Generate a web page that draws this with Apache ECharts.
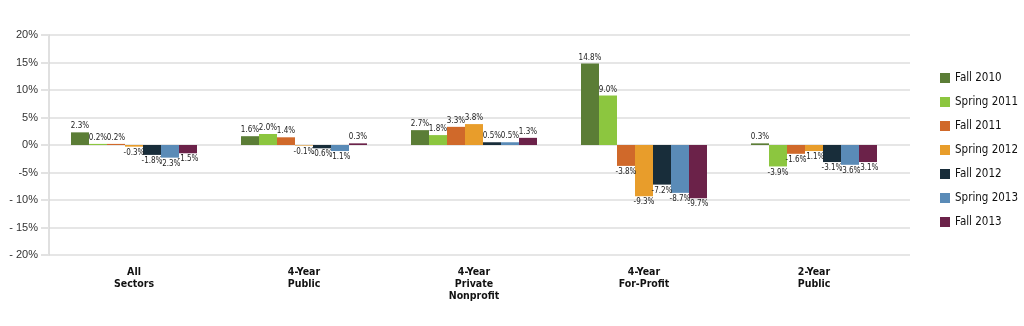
<!DOCTYPE html>
<html><head><meta charset="utf-8">
<script src="https://cdn.jsdelivr.net/npm/echarts@6/dist/echarts.min.js"></script>
<style>html,body{margin:0;padding:0;background:#fff}#c{width:1024px;height:326px}</style>
</head><body><div id="c"></div>
<script>
const categories = ["All\nSectors", "4-Year\nPublic", "4-Year\nPrivate\nNonprofit", "4-Year\nFor-Profit", "2-Year\nPublic"];
const seriesNames = ["Fall 2010", "Spring 2011", "Fall 2011", "Spring 2012", "Fall 2012", "Spring 2013", "Fall 2013"];
const fall2010   = [2.3, 1.6, 2.7, 14.8, 0.3];
const spring2011 = [0.2, 2.0, 1.8, 9.0, -3.9];
const fall2011   = [0.2, 1.4, 3.3, -3.8, -1.6];
const spring2012 = [-0.3, -0.1, 3.8, -9.3, -1.1];
const fall2012   = [-1.8, -0.6, 0.5, -7.2, -3.1];
const spring2013 = [-2.3, -1.1, 0.5, -8.7, -3.6];
const fall2013   = [-1.5, 0.3, 1.3, -9.7, -3.1];
const yTicks = [-20, -15, -10, -5, 0, 5, 10, 15, 20];

const allValues = [fall2010, spring2011, fall2011, spring2012, fall2012, spring2013, fall2013];
const colors = ["#5b7d36", "#8cc63f", "#d0692a", "#e89d2b", "#182d3a", "#5a8bb7", "#6b2249"];
const narrow = "'Liberation Sans Narrow', 'DejaVu Sans Condensed', sans-serif";

const series = seriesNames.map((name, i) => ({
  name, type: 'bar', barWidth: 18, barGap: '0%', z: 3,
  xAxisIndex: 0, yAxisIndex: 0,
  itemStyle: { color: colors[i] },
  data: allValues[i].map(v => ({
    value: v,
    label: { show: true, position: v >= 0 ? 'top' : 'bottom', distance: 2,
      formatter: p => p.value.toFixed(1) + '%',
      fontFamily: narrow, fontSize: 8, color: '#222' }
  }))
}));

const yMin = yTicks[0], yMax = yTicks[yTicks.length - 1];
const chart = echarts.init(document.getElementById('c'), null, { renderer: 'canvas' });
chart.setOption({
  animation: false,
  color: colors,
  grid: [
    { left: 49, right: 125, top: 35, bottom: 71, containLabel: false },
    { left: 49, right: 114, top: 35, bottom: 71, containLabel: false }
  ],
  legend: {
    orient: 'vertical', left: 935, top: 66,
    itemWidth: 10, itemHeight: 10, itemGap: 10,
    icon: 'rect',
    textStyle: { fontFamily: narrow, fontSize: 11.5, color: '#111', lineHeight: 14 },
    data: seriesNames
  },
  xAxis: [{
    type: 'category', data: categories, gridIndex: 0,
    axisLine: { show: false },
    axisTick: { show: false },
    axisLabel: { fontFamily: narrow, fontWeight: 'bold', fontSize: 10.5, color: '#111', lineHeight: 12, margin: 11 }
  }, {
    type: 'value', gridIndex: 1, show: false, min: 0, max: 1
  }],
  yAxis: [{
    type: 'value', gridIndex: 0, min: yMin, max: yMax, interval: 5,
    axisLine: { show: true, lineStyle: { color: '#d6d6d6', width: 1.5 } },
    axisTick: { show: true, length: 8, lineStyle: { color: '#e2e2e2', width: 2 } },
    splitLine: { show: false },
    axisLabel: {
      fontFamily: "'Liberation Sans', Arial, sans-serif", fontSize: 11, color: '#333', margin: 11,
      formatter: v => (v <= -10 ? '- ' + Math.abs(v) : String(v)) + '%'
    }
  }, {
    type: 'value', gridIndex: 1, min: yMin, max: yMax, interval: 5,
    axisLine: { show: false }, axisTick: { show: false }, axisLabel: { show: false },
    splitLine: { show: true, lineStyle: { color: '#e6e6e6', width: 2 } }
  }],
  series
});
</script></body></html>
